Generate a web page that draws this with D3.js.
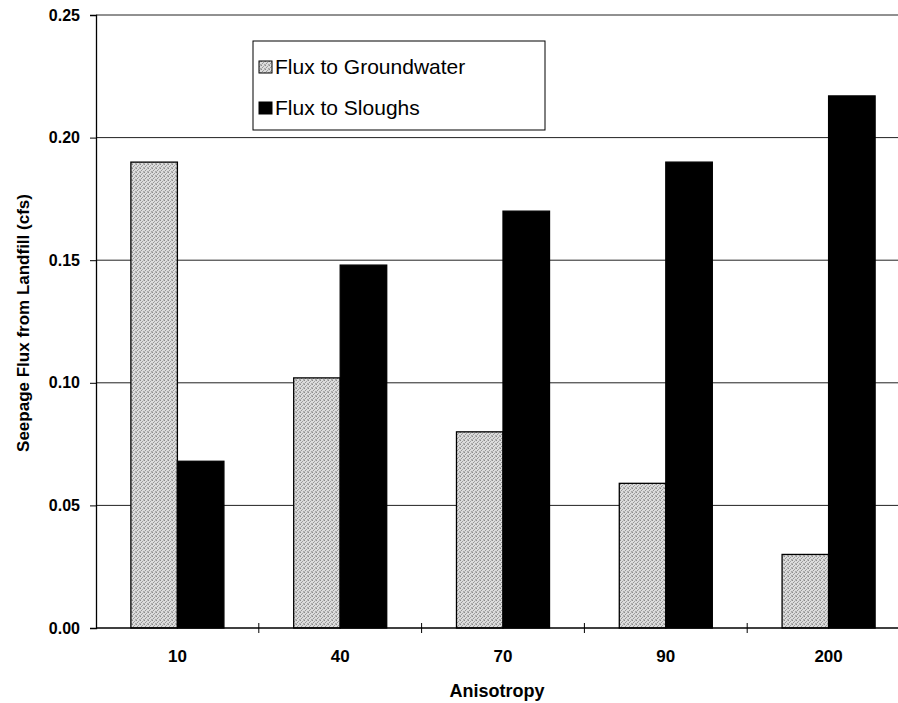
<!DOCTYPE html>
<html>
<head>
<meta charset="utf-8">
<script src="https://cdn.jsdelivr.net/npm/d3@7"></script>
<style>
  html, body { margin: 0; padding: 0; background: #fff; overflow: hidden; }
  svg { display: block; font-family: Arial, "Liberation Sans", sans-serif; }
</style>
</head>
<body>
<svg id="chart" width="898" height="703"></svg>
<script>
// Seepage flux leaving the landfill, by anisotropy ratio
const categories = ["10", "40", "70", "90", "200"];
const seriesNames = ["Flux to Groundwater", "Flux to Sloughs"];
const fluxGroundwater = [0.190, 0.102, 0.080, 0.059, 0.030];
const fluxSloughs = [0.068, 0.148, 0.170, 0.190, 0.217];
const yTicks = [0.00, 0.05, 0.10, 0.15, 0.20, 0.25];

const svg = d3.select("#chart");
const margin = { left: 96, top: 15, right: 910, bottom: 628 };

// stippled light-grey fill for the groundwater bars
const defs = svg.append("defs");
const pat = defs.append("pattern")
  .attr("id", "stipple")
  .attr("width", 4).attr("height", 4)
  .attr("patternUnits", "userSpaceOnUse");
pat.append("rect").attr("width", 4).attr("height", 4).attr("fill", "#dcdcdc");
[[0, 0, "#8c8c8c"], [2, 1, "#a0a0a0"], [1, 2, "#959595"], [3, 3, "#a8a8a8"], [3, 0, "#b8b8b8"], [0, 3, "#b4b4b4"]]
  .forEach(([px, py, c]) => pat.append("rect")
    .attr("x", px).attr("y", py).attr("width", 1).attr("height", 1).attr("fill", c));

const x = d3.scaleBand()
  .domain(categories)
  .range([margin.left, margin.right])
  .paddingInner(0).paddingOuter(0);

const y = d3.scaleLinear()
  .domain([0, 0.25])
  .range([margin.bottom, margin.top]);

// horizontal gridlines
svg.append("g")
  .selectAll("line")
  .data(yTicks.filter(d => d > 0))
  .join("line")
  .attr("x1", margin.left).attr("x2", margin.right)
  .attr("y1", d => y(d)).attr("y2", d => y(d))
  .attr("stroke", "#222").attr("stroke-width", 1);

// bars: gap width 150% of the bar width, two bars per group
const barW = x.bandwidth() / 3.5;
const series = [
  { name: seriesNames[0], values: fluxGroundwater, fill: "url(#stipple)", offset: 0 },
  { name: seriesNames[1], values: fluxSloughs, fill: "#000", offset: 1 }
];
series.forEach(s => {
  svg.append("g")
    .selectAll("rect")
    .data(categories.map((c, i) => ({ c, v: s.values[i] })))
    .join("rect")
    .attr("x", d => x(d.c) + x.bandwidth() / 2 - barW + s.offset * barW)
    .attr("y", d => y(d.v))
    .attr("width", barW)
    .attr("height", d => y(0) - y(d.v))
    .attr("fill", s.fill)
    .attr("stroke", "#000")
    .attr("stroke-width", 1.3);
});

// y axis
const yAxis = d3.axisLeft(y)
  .tickValues(yTicks)
  .tickFormat(d3.format(".2f"))
  .tickSize(6)
  .tickPadding(10);
const gy = svg.append("g")
  .attr("transform", `translate(${margin.left},0)`)
  .call(yAxis);
gy.select(".domain").attr("stroke", "#000").attr("stroke-width", 1.3);
gy.selectAll(".tick line").attr("stroke", "#000");
gy.selectAll(".tick text")
  .attr("font-size", 16).attr("font-weight", "bold").attr("fill", "#000");

// x axis with ticks on category boundaries
const gx = svg.append("g")
  .attr("transform", `translate(0,${margin.bottom})`);
gx.append("line")
  .attr("x1", margin.left).attr("x2", margin.right)
  .attr("stroke", "#000").attr("stroke-width", 1.3);
gx.selectAll("line.tk")
  .data(categories.slice(1))
  .join("line")
  .attr("class", "tk")
  .attr("x1", d => x(d)).attr("x2", d => x(d))
  .attr("y1", -5).attr("y2", 5)
  .attr("stroke", "#000");
gx.selectAll("text")
  .data(categories)
  .join("text")
  .attr("x", d => x(d) + x.bandwidth() / 2)
  .attr("y", 34)
  .attr("text-anchor", "middle")
  .attr("font-size", 17).attr("font-weight", "bold")
  .text(d => d);

// axis titles
svg.append("text")
  .attr("x", 497).attr("y", 697)
  .attr("text-anchor", "middle")
  .attr("font-size", 18).attr("font-weight", "bold")
  .text("Anisotropy");
svg.append("text")
  .attr("transform", "translate(29,323) rotate(-90)")
  .attr("text-anchor", "middle")
  .attr("font-size", 17).attr("font-weight", "bold")
  .text("Seepage Flux from Landfill (cfs)");

// legend
const lg = svg.append("g").attr("transform", "translate(253,41)");
lg.append("rect")
  .attr("width", 292).attr("height", 89)
  .attr("fill", "#fff").attr("stroke", "#000").attr("stroke-width", 1);
series.forEach((s, i) => {
  const cy = 26 + i * 41;
  lg.append("rect")
    .attr("x", 6).attr("y", cy - 6)
    .attr("width", 13).attr("height", 12)
    .attr("fill", s.fill).attr("stroke", "#000").attr("stroke-width", 1);
  lg.append("text")
    .attr("x", 22).attr("y", cy + 7)
    .attr("font-size", 21)
    .text(s.name);
});
</script>
</body>
</html>
